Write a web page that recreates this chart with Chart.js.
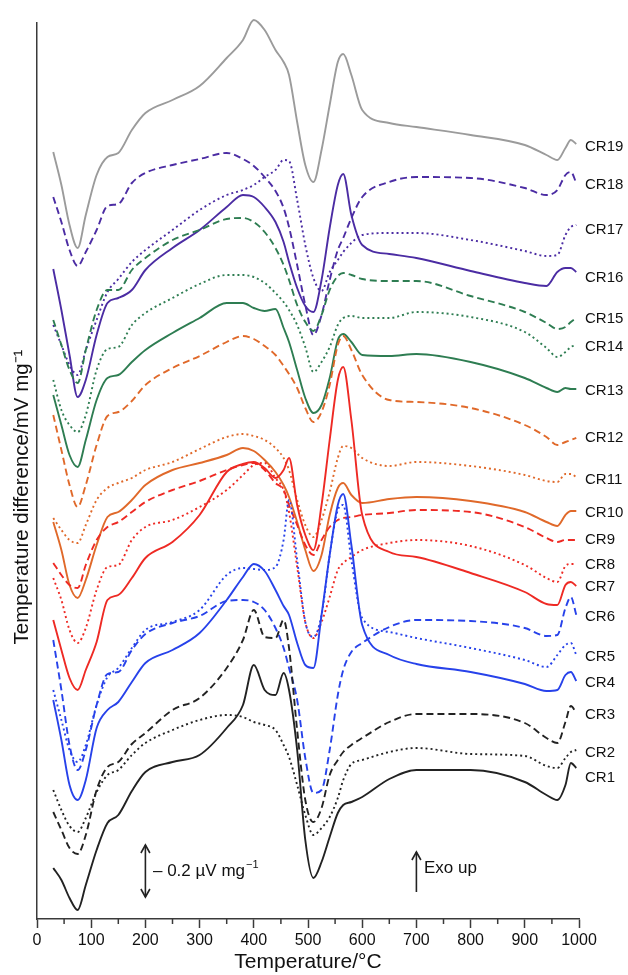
<!DOCTYPE html>
<html>
<head>
<meta charset="utf-8">
<title>DTA curves CR1-CR19</title>
<script src="https://cdn.jsdelivr.net/npm/chart.js@4.4.1/dist/chart.umd.min.js"></script>
<style>
  html, body { margin: 0; padding: 0; background: #fff; }
  canvas { display: block; }
</style>
</head>
<body>
<canvas id="dta" width="628" height="975"></canvas>
<script>
// temperature grid (°C) shared by all curves
const temperatures = [30, 45, 60, 75, 90, 110, 130, 150, 175, 200, 250, 300, 350, 380, 400, 420, 440, 455, 465, 480, 495, 510, 525, 540, 555, 565, 580, 600, 650, 700, 800, 900, 940, 960, 975, 985, 995];

// stacked DTA signal, arbitrary offset units (curves are shifted apart)
const cr1  = [132, 120, 102, 90, 115, 150, 177, 185, 209, 228, 238, 245, 272, 295, 335, 310, 305, 327, 310, 250, 160, 122, 138, 163, 187, 195, 198, 203, 221, 230, 230, 218, 205, 200, 215, 237, 232];
const cr2  = [210, 190, 174, 168, 182, 208, 225, 230, 245, 257, 270, 280, 285, 283, 278, 275, 270, 255, 243, 215, 185, 165, 172, 183, 202, 220, 236, 240, 248, 252, 246, 244, 234, 232, 242, 248, 250];
const cr3  = [188, 170, 152, 146, 165, 210, 233, 238, 256, 267, 290, 302, 332, 360, 390, 363, 362, 380, 352, 270, 200, 178, 192, 225, 240, 248, 255, 262, 278, 286, 286, 277, 262, 257, 278, 294, 287];
const cr4  = [300, 260, 215, 200, 220, 272, 290, 298, 318, 337, 350, 367, 400, 423, 436, 429, 410, 394, 385, 357, 335, 332, 385, 445, 495, 506, 455, 375, 345, 336, 328, 316, 309, 310, 325, 328, 319];
const cr5  = [310, 280, 250, 238, 255, 295, 323, 332, 352, 370, 378, 390, 425, 432, 431, 430, 433, 460, 500, 440, 378, 363, 385, 445, 490, 495, 440, 382, 368, 362, 352, 340, 333, 345, 355, 357, 345];
const cr6  = [360, 310, 255, 230, 250, 295, 326, 328, 350, 366, 377, 384, 399, 400, 398, 390, 372, 352, 332, 300, 242, 207, 210, 250, 305, 330, 348, 357, 373, 380, 379, 372, 364, 365, 392, 403, 385];
const cr7  = [380, 350, 322, 310, 330, 358, 400, 405, 422, 442, 458, 485, 528, 536, 538, 532, 522, 530, 542, 495, 465, 450, 495, 560, 620, 633, 580, 485, 448, 443, 427, 408, 396, 395, 415, 418, 414];
const cr8  = [422, 400, 370, 357, 372, 410, 433, 435, 460, 473, 480, 493, 510, 525, 535, 537, 522, 510, 488, 433, 378, 362, 378, 403, 430, 437, 443, 450, 457, 460, 454, 435, 422, 418, 434, 436, 436];
const cr9  = [437, 425, 415, 412, 435, 460, 473, 478, 488, 498, 510, 519, 530, 535, 537, 530, 517, 510, 495, 475, 455, 445, 460, 473, 480, 482, 483, 485, 487, 490, 488, 473, 462, 458, 460, 460, 460];
const cr10 = [478, 450, 415, 402, 420, 455, 483, 488, 500, 515, 530, 537, 545, 552, 549, 540, 528, 515, 503, 478, 450, 429, 445, 485, 512, 517, 505, 497, 501, 503, 499, 488, 478, 474, 485, 489, 489];
const cr11 = [482, 470, 460, 457, 475, 500, 512, 517, 522, 530, 538, 551, 563, 566, 564, 560, 552, 542, 530, 500, 475, 463, 480, 508, 542, 554, 552, 542, 534, 538, 534, 525, 519, 518, 526, 526, 523];
const cr12 = [585, 550, 515, 493, 515, 555, 584, 588, 599, 615, 632, 644, 658, 664, 661, 654, 645, 634, 626, 612, 592, 578, 588, 615, 655, 664, 650, 625, 600, 598, 592, 575, 563, 555, 558, 560, 562];
const cr13 = [605, 575, 545, 533, 560, 600, 622, 625, 638, 650, 667, 682, 697, 697, 692, 689, 691, 672, 658, 630, 602, 587, 595, 622, 660, 666, 658, 645, 644, 646, 638, 622, 612, 608, 612, 611, 611];
const cr14 = [620, 590, 575, 568, 585, 630, 651, 653, 675, 687, 702, 716, 725, 725, 723, 717, 707, 698, 690, 675, 653, 628, 638, 653, 675, 682, 684, 682, 682, 688, 683, 668, 652, 643, 648, 653, 655];
const cr15 = [680, 655, 630, 617, 650, 690, 710, 710, 730, 742, 760, 770, 781, 782, 778, 768, 752, 735, 720, 695, 678, 669, 685, 710, 724, 727, 725, 721, 719, 719, 704, 688, 677, 671, 673, 678, 682];
const cr16 = [731, 690, 645, 603, 620, 665, 697, 702, 710, 730, 752, 770, 793, 805, 803, 793, 778, 758, 738, 712, 694, 688, 720, 772, 815, 826, 785, 755, 746, 742, 729, 717, 714, 728, 732, 732, 728];
const cr17 = [675, 655, 635, 625, 650, 680, 708, 721, 738, 750, 770, 790, 805, 810, 815, 823, 830, 840, 839, 800, 755, 722, 709, 728, 740, 748, 757, 765, 767, 767, 760, 749, 744, 745, 765, 773, 775];
const cr18 = [803, 778, 750, 734, 748, 770, 794, 796, 817, 827, 835, 841, 847, 841, 834, 823, 809, 792, 773, 735, 695, 665, 685, 720, 750, 762, 782, 803, 818, 823, 822, 812, 805, 810, 825, 828, 817];
const cr19 = [848, 815, 775, 752, 785, 825, 843, 847, 870, 887, 900, 914, 942, 960, 980, 970, 950, 938, 925, 878, 835, 818, 850, 895, 938, 946, 925, 890, 877, 873, 865, 855, 845, 840, 852, 860, 856];

const seriesNames = ["CR1", "CR2", "CR3", "CR4", "CR5", "CR6", "CR7", "CR8", "CR9", "CR10",
                     "CR11", "CR12", "CR13", "CR14", "CR15", "CR16", "CR17", "CR18", "CR19"];
const seriesValues = [cr1, cr2, cr3, cr4, cr5, cr6, cr7, cr8, cr9, cr10,
                      cr11, cr12, cr13, cr14, cr15, cr16, cr17, cr18, cr19];
// signal level where each name is written at the right end
const labelLevels = [222, 247, 285, 317, 343, 383, 413, 435, 460, 487, 520, 562, 609, 653, 681, 722, 770, 815, 853];

const xTickValues = [0, 100, 200, 300, 400, 500, 600, 700, 800, 900, 1000];
const xMinorTicks = [50, 150, 250, 350, 450, 550, 650, 750, 850, 950];
const yTitle = "Temperature difference/mV mg\u207b\u00b9";

// styles
const BLACK = "#222222", BLUE = "#2742ea", RED = "#ee2a24", ORANGE = "#e0692a", GREEN = "#2e7d52", PURPLE = "#4b2ca3", GREY = "#9b9b9b";
const SOLID = [], DASH = [7, 4], DOT = [2, 3];
const seriesColors = [BLACK, BLACK, BLACK, BLUE, BLUE, BLUE, RED, RED, RED, ORANGE, ORANGE, ORANGE,
                      GREEN, GREEN, GREEN, PURPLE, PURPLE, PURPLE, GREY];
const seriesDash = [SOLID, DOT, DASH, SOLID, DOT, DASH, SOLID, DOT, DASH, SOLID, DOT, DASH,
                    SOLID, DOT, DASH, SOLID, DOT, DASH, SOLID];

const axisColor = "#3a3a3a";
const fontFamily = "'Liberation Sans', Arial, Helvetica, sans-serif";

Chart.defaults.font.family = fontFamily;
Chart.defaults.color = "#111";

const datasets = seriesValues.map((vals, i) => ({
  label: seriesNames[i],
  data: temperatures.map((t, j) => ({ x: t, y: vals[j] })),
  borderColor: seriesColors[i],
  borderDash: seriesDash[i],
  borderWidth: 1.9,
  pointRadius: 0,
  fill: false,
  cubicInterpolationMode: "monotone",
  clip: false
}));

// y title, series names, minor ticks, scale bar and exo arrow
const overlay = {
  id: "overlay",
  afterDraw(chart) {
    const { ctx, chartArea } = chart;
    const x = chart.scales.x, y = chart.scales.y;
    ctx.save();

    // y axis title, centred a little below the middle like the original
    ctx.save();
    ctx.translate(28, (chartArea.top + chartArea.bottom) / 2 + 26);
    ctx.rotate(-Math.PI / 2);
    ctx.fillStyle = "#111";
    ctx.font = "20.5px " + fontFamily;
    ctx.textAlign = "center";
    ctx.textBaseline = "alphabetic";
    ctx.fillText(yTitle, 0, 0);
    ctx.restore();

    ctx.strokeStyle = axisColor;
    ctx.lineWidth = 1.5;
    xMinorTicks.forEach(t => {
      const px = x.getPixelForValue(t);
      ctx.beginPath();
      ctx.moveTo(px, chartArea.bottom);
      ctx.lineTo(px, chartArea.bottom + 5);
      ctx.stroke();
    });

    ctx.fillStyle = "#111";
    ctx.font = "15px " + fontFamily;
    ctx.textBaseline = "middle";
    ctx.textAlign = "left";
    seriesNames.forEach((name, i) => {
      ctx.fillText(name, chartArea.right + 6, y.getPixelForValue(labelLevels[i]));
    });

    const head = (px, py, dir) => {
      ctx.beginPath();
      ctx.moveTo(px - 4.5, py - dir * 8);
      ctx.lineTo(px, py);
      ctx.lineTo(px + 4.5, py - dir * 8);
      ctx.stroke();
    };

    // 0.2 µV mg-1 scale bar
    ctx.strokeStyle = "#222";
    ctx.lineWidth = 1.6;
    let ax = x.getPixelForValue(200);
    let y1 = y.getPixelForValue(155), y2 = y.getPixelForValue(103);
    ctx.beginPath(); ctx.moveTo(ax, y1); ctx.lineTo(ax, y2); ctx.stroke();
    head(ax, y1, -1);
    head(ax, y2, 1);

    ctx.font = "17px " + fontFamily;
    let tx = x.getPixelForValue(214), ty = y.getPixelForValue(129);
    const main = "\u2013 0.2 \u00b5V mg";
    ctx.fillText(main, tx, ty);
    const w = ctx.measureText(main).width;
    ctx.font = "11px " + fontFamily;
    ctx.fillText("\u22121", tx + w + 1, ty - 6);

    // exo up arrow
    ax = x.getPixelForValue(700);
    y1 = y.getPixelForValue(148); y2 = y.getPixelForValue(108);
    ctx.beginPath(); ctx.moveTo(ax, y1); ctx.lineTo(ax, y2); ctx.stroke();
    head(ax, y1, -1);
    ctx.font = "17px " + fontFamily;
    ctx.fillText("Exo up", x.getPixelForValue(714), y.getPixelForValue(132));

    ctx.restore();
  }
};

new Chart(document.getElementById("dta"), {
  type: "line",
  data: { datasets: datasets },
  options: {
    responsive: false,
    animation: false,
    events: [],
    layout: { padding: { top: 23, right: 49, bottom: 0, left: 0 } },
    plugins: {
      legend: { display: false },
      tooltip: { enabled: false }
    },
    scales: {
      x: {
        type: "linear",
        min: 0,
        max: 1000,
        afterBuildTicks: scale => { scale.ticks = xTickValues.map(v => ({ value: v })); },
        afterFit: scale => { scale.height = 56; },
        ticks: { padding: 3, font: { size: 16 }, color: "#111", maxRotation: 0, callback: v => String(v) },
        grid: { drawOnChartArea: false, drawTicks: true, tickLength: 9, tickColor: axisColor, tickWidth: 1.5 },
        border: { display: true, color: axisColor, width: 1.5 },
        title: { display: true, text: "Temperature/\u00b0C", font: { size: 21 }, color: "#111", padding: { top: 0, bottom: 0 } }
      },
      y: {
        type: "linear",
        min: 81,
        max: 977,
        afterFit: scale => { scale.width = 37; },
        ticks: { display: false },
        grid: { display: false },
        border: { display: true, color: axisColor, width: 1.5 }
      }
    }
  },
  plugins: [overlay]
});
</script>
</body>
</html>
